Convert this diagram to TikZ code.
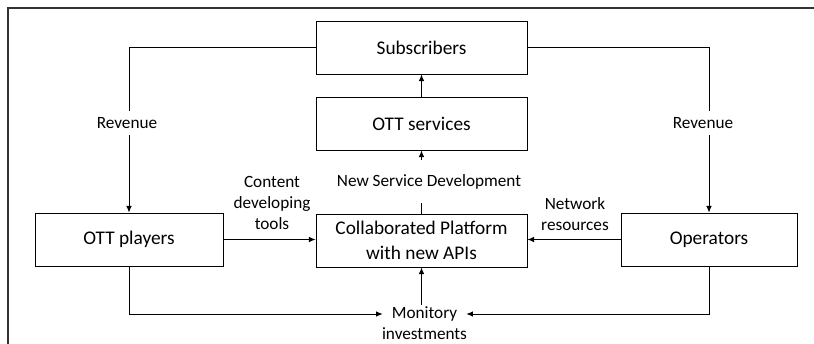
\documentclass[tikz,border=0pt]{standalone}
\usepackage{fontspec}
\setmainfont{Carlito}
\usetikzlibrary{arrows.meta}
\usetikzlibrary{calc, math}
\tikzset{
block/.style={draw, line width=0.5pt, minimum height=1.06cm, inner sep=0pt, align=center, font=\fontsize{11}{14.2}\selectfont},
tag/.style={align=center, font=\fontsize{9.8}{11.9}\selectfont},
link/.style={line width=0.5pt},
flow/.style={line width=0.5pt, -{Latex[length=3.8pt,width=3.2pt]}}
}

\begin{document}
\begin{tikzpicture}[x=0.02cm, y=-0.02cm]
\tikzmath{
\wmid=4.22;
\wott=3.76;
\wopr=3.52;
}
\useasboundingbox (0,0) rectangle (814,344);
\draw[line width=1.5pt, black!80] (8,344) -- (8,8) -- (814,8);

\node[block, minimum width=\wmid cm] (sub) at (421.5,47.5) {Subscribers};
\node[block, minimum width=\wmid cm] (serv) at (421.5,123.5) {OTT services};
\node[block, minimum width=\wmid cm] (plat) at (421.5,240.5) {Collaborated Platform\\with new APIs};
\node[block, minimum width=\wott cm] (ott) at (129,239.5) {OTT players};
\node[block, minimum width=\wopr cm] (opr) at (709,239.5) {Operators};

\node[tag] (revL) at (127,123) {Revenue};
\node[tag] (revR) at (703,123) {Revenue};
\node[tag, inner ysep=7.7pt] (nsd) at (429,181.5) {New Service Development};
\node[tag] (cdt) at (272,203) {Content\\developing\\tools};
\node[tag] (net) at (575,214) {Network\\resources};
\node[tag, inner xsep=5pt, inner ysep=1pt] (mon) at (424.5,314) {Monitory};
\node[tag] (inv) at (424.5,334) {investments};

\draw[link] (sub.west) -| (revL.north -| ott.north);
\draw[flow] (revL.south -| ott.north) -- (ott.north);
\draw[link] (sub.east) -| (revR.north -| opr.north);
\draw[flow] (revR.south -| opr.north) -- (opr.north);
\draw[flow] (serv.north) -- (sub.south);
\draw[link] (plat.north) -- (nsd.south -| plat.north);
\draw[flow] (nsd.north -| plat.north) -- (serv.south);
\draw[flow] (ott.east) -- (ott.east -| plat.west);
\draw[flow] (opr.west) -- (opr.west -| plat.east);
\draw[flow] (mon.north -| plat.south) -- (plat.south);
\draw[flow] (ott.south) |- (mon.west);
\draw[flow] (opr.south) |- (mon.east);
\end{tikzpicture}
\end{document}
